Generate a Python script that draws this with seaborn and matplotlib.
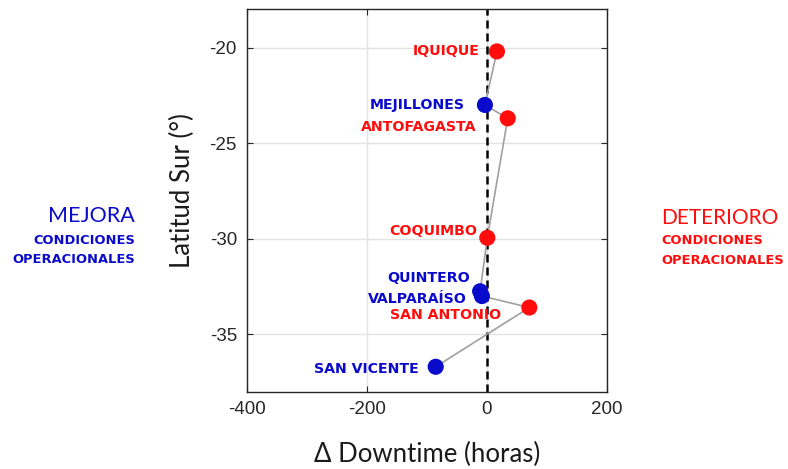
import matplotlib
matplotlib.use("Agg")
import matplotlib.pyplot as plt
import seaborn as sns
import pandas as pd

# Ports ordered north to south
ports = ["IQUIQUE", "MEJILLONES", "ANTOFAGASTA", "COQUIMBO",
         "QUINTERO", "VALPARAÍSO", "SAN ANTONIO", "SAN VICENTE"]
delta_downtime = [17, -3, 35, 1, -11, -8, 71, -85]
latitude = [-20.2, -23.0, -23.7, -29.95, -32.75, -33.0, -33.6, -36.7]

x_ticks = [-400, -200, 0, 200]
y_ticks = [-35, -30, -25, -20]

RED = "#ff0d0d"
BLUE = "#0a0acc"

df = pd.DataFrame({"port": ports, "delta": delta_downtime, "lat": latitude})
df["estado"] = ["deterioro" if d > 0 else "mejora" for d in df["delta"]]

# label placement (pixel offsets from each point, text right-aligned)
label_offsets = {
    "IQUIQUE": (-17, 0),
    "MEJILLONES": (-20, 0),
    "ANTOFAGASTA": (-31, -9),
    "COQUIMBO": (-10, 7),
    "QUINTERO": (-10, 13),
    "VALPARAÍSO": (-15, -3),
    "SAN ANTONIO": (-28, -7),
    "SAN VICENTE": (-17, -2),
}

sns.set_style("ticks")
plt.rcParams["font.family"] = ["Liberation Sans", "DejaVu Sans"]
plt.rcParams["axes.unicode_minus"] = False

BOLD = ["DejaVu Sans"]
LIGHT = ["Lato", "DejaVu Sans"]

fig = plt.figure(figsize=(7.88, 4.69), dpi=100)
ax = fig.add_axes([0.313, 0.165, 0.457, 0.815])

ax.grid(True, color="#e3e3e3", linewidth=1.0, zorder=0)
ax.axvline(0, color="black", linestyle=(0, (3.2, 2)), linewidth=1.8, zorder=2)

sns.lineplot(data=df, x="delta", y="lat", sort=False, estimator=None,
             color="#a0a0a0", linewidth=1.2, ax=ax, zorder=3)
sns.scatterplot(data=df, x="delta", y="lat", hue="estado",
                palette={"deterioro": RED, "mejora": BLUE},
                s=135, edgecolor="none", legend=False, ax=ax, zorder=4)

for _, row in df.iterrows():
    dx, dy = label_offsets[row["port"]]
    ax.annotate(row["port"], (row["delta"], row["lat"]), xytext=(dx, dy),
                textcoords="offset pixels", ha="right", va="center",
                fontsize=10.2, fontweight="bold", family=BOLD,
                color=RED if row["delta"] > 0 else BLUE, zorder=5)

ax.set_xlim(-400, 200)
ax.set_ylim(-38, -18)
ax.set_xticks(x_ticks)
ax.set_yticks(y_ticks)
ax.tick_params(direction="in", length=4, colors="#262626", labelsize=13.5,
               top=True, right=True, pad=7)
for sp in ax.spines.values():
    sp.set_color("#262626")
    sp.set_linewidth(1.0)

ax.set_xlabel("Δ Downtime (horas)", fontsize=18.5, color="#1a1a1a",
              family=LIGHT, labelpad=17)
ax.set_ylabel("Latitud Sur (°)", fontsize=18.5, color="#1a1a1a",
              family=LIGHT, va="center")
ax.yaxis.set_label_coords(-0.177, 0.525)

# side annotations
fig.text(135 / 788, 1 - 216 / 469, "MEJORA", ha="right", va="center",
         fontsize=15.5, color=BLUE, family=LIGHT)
fig.text(135 / 788, 1 - 240 / 469, "CONDICIONES", ha="right", va="center",
         fontsize=9.4, fontweight="bold", color=BLUE, family=BOLD)
fig.text(135 / 788, 1 - 259 / 469, "OPERACIONALES", ha="right", va="center",
         fontsize=9.4, fontweight="bold", color=BLUE, family=BOLD)

fig.text(661 / 788, 1 - 218 / 469, "DETERIORO", ha="left", va="center",
         fontsize=15, color=RED, family=LIGHT)
fig.text(661 / 788, 1 - 241 / 469, "CONDICIONES", ha="left", va="center",
         fontsize=9.4, fontweight="bold", color=RED, family=BOLD)
fig.text(661 / 788, 1 - 260 / 469, "OPERACIONALES", ha="left", va="center",
         fontsize=9.4, fontweight="bold", color=RED, family=BOLD)

fig.savefig("out.png", dpi=100)
